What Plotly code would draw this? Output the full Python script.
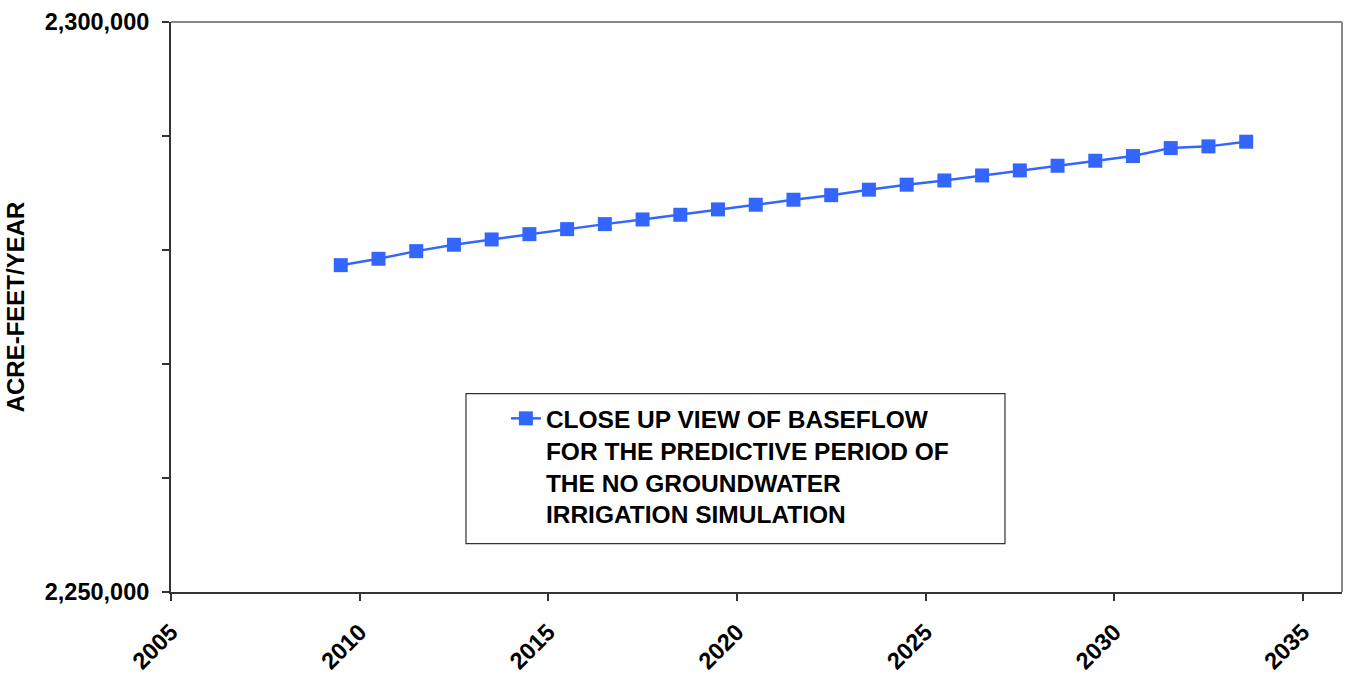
import plotly.graph_objects as go

# Simulated baseflow, predictive period (acre-feet per year)
years = [2009.5, 2010.5, 2011.5, 2012.5, 2013.5, 2014.5, 2015.5, 2016.5, 2017.5,
         2018.5, 2019.5, 2020.5, 2021.5, 2022.5, 2023.5, 2024.5, 2025.5, 2026.5,
         2027.5, 2028.5, 2029.5, 2030.5, 2031.5, 2032.5, 2033.5]
baseflow = [2278670, 2279230, 2279900, 2280460, 2280925, 2281390, 2281830, 2282270,
            2282680, 2283090, 2283560, 2283970, 2284410, 2284810, 2285290, 2285730,
            2286100, 2286540, 2286980, 2287390, 2287830, 2288240, 2288940, 2289090,
            2289500]

series_name = ("CLOSE UP VIEW OF BASEFLOW<br>FOR THE PREDICTIVE PERIOD OF<br>"
               "THE NO GROUNDWATER<br>IRRIGATION SIMULATION")
y_title = "ACRE-FEET/YEAR"
y_ticks = [2250000, 2260000, 2270000, 2280000, 2290000, 2300000]
y_ticktext = ["2,250,000", "", "", "", "", "2,300,000"]
x_ticks = [2005, 2010, 2015, 2020, 2025, 2030, 2035]

FONT = "Liberation Sans, Arial, sans-serif"
BLUE = "#3366FF"

fig = go.Figure()
fig.add_trace(go.Scatter(
    x=years, y=baseflow, mode="lines+markers", name=series_name,
    line=dict(color=BLUE, width=2.5),
    marker=dict(symbol="square", size=14, color=BLUE),
    showlegend=True,
))

fig.update_layout(
    width=1351, height=676,
    margin=dict(l=171, r=9, t=22, b=84),
    paper_bgcolor="white", plot_bgcolor="white",
    font=dict(family=FONT, size=23, color="black"),
    showlegend=True,
    legend=dict(
        x=0.286, y=0.344, xanchor="left", yanchor="top",
        bgcolor="rgba(0,0,0,0)", borderwidth=0, valign="top",
        font=dict(family=FONT, size=24.5, color="black", weight="bold"),
    ),
    xaxis=dict(
        range=[2005, 2036.04], tickvals=x_ticks, tickangle=-45,
        automargin=False,
        showgrid=False, zeroline=False,
        showline=True, linecolor="#333333", linewidth=2,
        ticks="outside", ticklen=7, tickcolor="#333333", tickwidth=1.5,
        ticklabelstandoff=8,
        tickfont=dict(family=FONT, size=23.5, color="black", weight="bold"),
    ),
    yaxis=dict(
        range=[2250000, 2300000], tickvals=y_ticks, ticktext=y_ticktext,
        automargin=False,
        showgrid=False, zeroline=False,
        showline=True, linecolor="#333333", linewidth=2,
        ticks="outside", ticklen=7, tickcolor="#333333", tickwidth=1.5,
        ticklabelstandoff=8,
        tickfont=dict(family=FONT, size=23.5, color="black", weight="bold"),
        title=dict(text=y_title, standoff=13,
                   font=dict(family=FONT, size=24, color="black", weight="bold")),
    ),
    shapes=[
        # plot-area frame on the top and right sides
        dict(type="line", xref="paper", yref="paper", x0=0, x1=1, y0=1, y1=1,
             line=dict(color="#888888", width=2)),
        dict(type="line", xref="paper", yref="paper", x0=1, x1=1, y0=0, y1=1,
             line=dict(color="#888888", width=2)),
        # legend frame
        dict(type="rect", xref="paper", yref="paper",
             x0=0.2519, x1=0.7122, y0=0.0848, y1=0.348,
             line=dict(color="#333333", width=1.2), fillcolor="rgba(0,0,0,0)"),
    ],
)

fig.write_html("out.html")
